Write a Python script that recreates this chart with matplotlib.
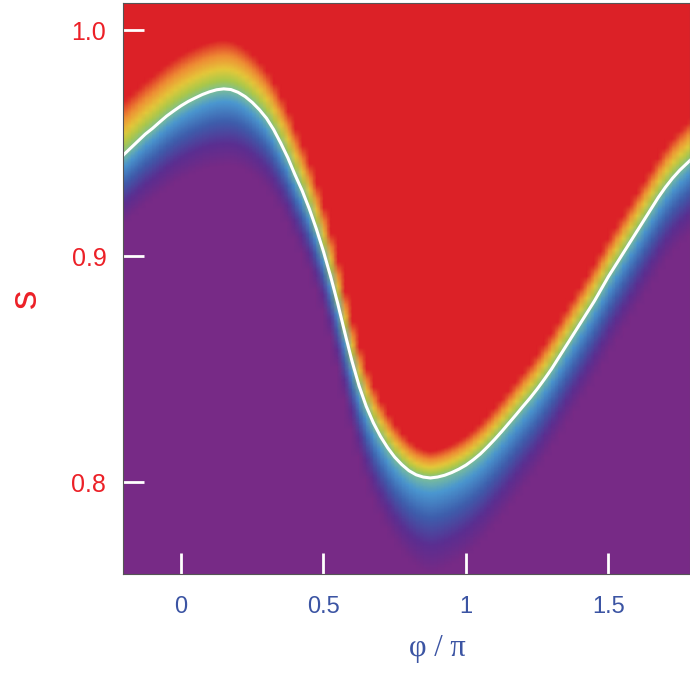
import numpy as np
import matplotlib.pyplot as plt
from matplotlib.colors import LinearSegmentedColormap

# boundary line (phi / pi, s)
phi = [-0.21, -0.2, -0.175, -0.15, -0.125, -0.1, -0.075, -0.05, -0.025,
       0.0, 0.025, 0.05, 0.075, 0.1, 0.125, 0.15, 0.175, 0.2, 0.225,
       0.25, 0.275, 0.3, 0.325, 0.35, 0.375, 0.4, 0.425, 0.45, 0.475,
       0.5, 0.525, 0.55, 0.575, 0.6, 0.625, 0.65, 0.675, 0.7, 0.725,
       0.75, 0.775, 0.8, 0.825, 0.85, 0.875, 0.9, 0.925, 0.95, 0.975,
       1.0, 1.025, 1.05, 1.075, 1.1, 1.125, 1.15, 1.175, 1.2, 1.225,
       1.25, 1.275, 1.3, 1.325, 1.35, 1.375, 1.4, 1.425, 1.45, 1.475,
       1.5, 1.525, 1.55, 1.575, 1.6, 1.625, 1.65, 1.675, 1.7, 1.725,
       1.75, 1.775, 1.8]
s_edge = [0.9435, 0.945, 0.948, 0.951, 0.954, 0.9565, 0.9593, 0.962, 0.9643,
          0.9665, 0.9684, 0.970, 0.9715, 0.9727, 0.9736, 0.974, 0.9737, 0.9725, 0.9706,
          0.968, 0.9648, 0.961, 0.956, 0.950, 0.9435, 0.936, 0.929, 0.921, 0.912,
          0.902, 0.891, 0.879, 0.866, 0.8535, 0.8425, 0.8335, 0.8262, 0.8202, 0.8152,
          0.811, 0.8077, 0.805, 0.8032, 0.8022, 0.8018, 0.8022, 0.803, 0.8042, 0.8057,
          0.8075, 0.8098, 0.8124, 0.8155, 0.8188, 0.8223, 0.826, 0.8297, 0.8335, 0.8372,
          0.8412, 0.8455, 0.850, 0.855, 0.860, 0.865, 0.870, 0.875, 0.880, 0.8855,
          0.891, 0.896, 0.901, 0.906, 0.911, 0.916, 0.921, 0.926, 0.9305, 0.9345,
          0.938, 0.941, 0.944]

# width of the coloured band above / below the white line (in s)
band_phi = [-0.2, 0.15, 0.5, 0.87, 1.3, 1.8]
band_up = [0.024, 0.022, 0.020, 0.012, 0.016, 0.018]
band_down = [0.030, 0.034, 0.026, 0.042, 0.034, 0.032]

# colour ramp across the band: -1 = far below line, +1 = far above
ramp_pos = [-1.0, -0.72, -0.42, -0.16, 0.0, 0.18, 0.41, 0.68, 1.0]
ramp_colors = ['#772a86', '#5c2e91', '#3e5fad', '#4b98d1', '#7dbf9a',
               '#a9c84b', '#e6c83a', '#ef8d34', '#dc2127']

xticks = [0, 0.5, 1, 1.5]
xticklabels = ['0', '0.5', '1', '1.5']
yticks = [0.8, 0.9, 1.0]
yticklabels = ['0.8', '0.9', '1.0']

red = '#ec2027'
blue = '#3b54a3'

fig = plt.figure(figsize=(6.9, 6.73), dpi=100)
ax = fig.add_axes([123 / 690, 99 / 673, 567 / 690, 571 / 673])

nodes = [(p + 1) / 2 for p in ramp_pos]
cmap = LinearSegmentedColormap.from_list('edge', list(zip(nodes, ramp_colors)))

x = np.array(phi)
b = np.array(s_edge)
up = np.interp(x, band_phi, band_up)
down = np.interp(x, band_phi, band_down)
s = np.linspace(0.75, 1.02, 700)
X, S = np.meshgrid(x, s)
D = S - b[None, :]
U = np.where(D > 0, D / up[None, :], D / down[None, :])
U = np.clip(U, -1, 1)
ax.pcolormesh(X, S, U, cmap=cmap, vmin=-1, vmax=1, shading='gouraud')
ax.plot(phi, s_edge, color='white', lw=2.2, solid_capstyle='round')

ax.set_xlim(-0.2035, 1.786)
ax.set_ylim(0.7593, 1.012)

ax.set_xticks(xticks)
ax.set_xticklabels(xticklabels, color=blue, fontsize=17, family='Liberation Sans')
ax.set_yticks(yticks)
ax.set_yticklabels(yticklabels, color=red, fontsize=18, family='Liberation Sans')
ax.tick_params(direction='in', length=15, width=2, color='white', pad=12)
ax.tick_params(axis='x', pad=16)

for sp in ax.spines.values():
    sp.set_color('#555555')
    sp.set_linewidth(0.8)

ax.set_xlabel('φ / π', color=blue, fontsize=22, family='Liberation Serif')
ax.xaxis.set_label_coords(0.554, -0.105)
ax.set_ylabel('s', color=red, fontsize=28, family='Liberation Sans')
ax.yaxis.set_label_coords(-0.14, 0.483)

fig.savefig('out.png', dpi=100)
